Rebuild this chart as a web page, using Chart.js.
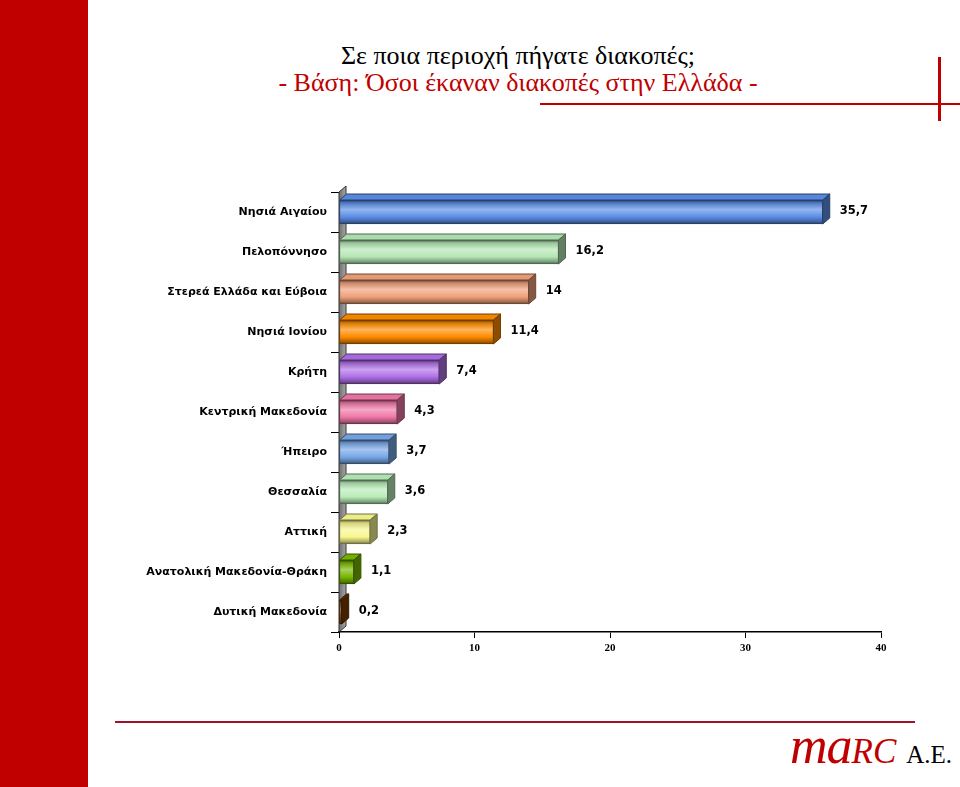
<!DOCTYPE html>
<html>
<head>
<meta charset="utf-8">
<script src="https://cdn.jsdelivr.net/npm/chart.js@4.4.1/dist/chart.umd.min.js"></script>
<style>
  html, body { margin: 0; padding: 0; background: #fff; }
  body { width: 960px; height: 787px; position: relative; overflow: hidden; }
  .band { position: absolute; left: 0; top: 0; width: 88px; height: 787px; background: #c00000; }
  .title { position: absolute; left: 88px; width: 860px; text-align: center; font-family: "Liberation Serif", serif; font-size: 26px; line-height: 30px; }
  .t1 { top: 41px; color: #000; }
  .t2 { top: 68px; color: #c00000; }
  .vline { position: absolute; left: 938px; top: 57px; width: 3px; height: 64px; background: #c00000; }
  .hline { position: absolute; left: 540px; top: 103px; width: 420px; height: 2px; background: #c00000; }
  .bline { position: absolute; left: 115px; top: 721px; width: 800px; height: 2px; background: #a0102a; }
  .logo { position: absolute; left: 790px; top: 716px; font-family: "Liberation Serif", serif; white-space: nowrap; }
  .logo .m { color: #c00000; font-style: italic; font-size: 52px; letter-spacing: -1px; }
  .logo .rc { color: #c00000; font-style: italic; font-size: 35px; }
  .logo .ae { color: #000; font-size: 25px; margin-left: 10px; }
  #wrap { position: absolute; left: 0; top: 170px; width: 960px; height: 500px; }
</style>
</head>
<body>
<div class="band"></div>
<div class="title t1">Σε ποια περιοχή πήγατε διακοπές;</div>
<div class="title t2">- Βάση: Όσοι έκαναν διακοπές στην Ελλάδα -</div>
<div class="vline"></div>
<div class="hline"></div>
<div class="bline"></div>
<div class="logo"><span class="m">ma</span><span class="rc">RC</span><span class="ae">A.E.</span></div>
<div id="wrap"><canvas id="chart"></canvas></div>

<script>
const regions = [
  "Νησιά Αιγαίου",
  "Πελοπόννησο",
  "Στερεά Ελλάδα και Εύβοια",
  "Νησιά Ιονίου",
  "Κρήτη",
  "Κεντρική Μακεδονία",
  "Ήπειρο",
  "Θεσσαλία",
  "Αττική",
  "Ανατολική Μακεδονία-Θράκη",
  "Δυτική Μακεδονία",
];
const shares = [35.7, 16.2, 14, 11.4, 7.4, 4.3, 3.7, 3.6, 2.3, 1.1, 0.2];
const xTicks = [0, 10, 20, 30, 40];

// one colour per bar, like the original
const barColors = [
  "#5b8ee6", "#b4e6b4", "#f0a07a", "#ff8c00", "#b070e8", "#f078a8",
  "#78a8e8", "#b8ecb8", "#f8f890", "#78b800", "#7a3c00",
];

const DX = 7, DY = 6, BAR_H = 24;

function shade(hex, f) {
  const n = parseInt(hex.slice(1), 16);
  let r = (n >> 16) & 255, g = (n >> 8) & 255, b = n & 255;
  const t = f < 0 ? 0 : 255, p = Math.abs(f);
  r = Math.round(r + (t - r) * p);
  g = Math.round(g + (t - g) * p);
  b = Math.round(b + (t - b) * p);
  return `rgb(${r},${g},${b})`;
}

function frontFill(context) {
  const chart = context.chart;
  const base = barColors[context.dataIndex];
  if (!chart.chartArea || !chart.scales.y) return base;
  const yc = chart.scales.y.getPixelForValue(context.dataIndex);
  const g = chart.ctx.createLinearGradient(0, yc - BAR_H / 2, 0, yc + BAR_H / 2);
  g.addColorStop(0, shade(base, -0.6));
  g.addColorStop(0.12, shade(base, -0.15));
  g.addColorStop(0.4, shade(base, 0.35));
  g.addColorStop(0.7, base);
  g.addColorStop(0.9, shade(base, -0.3));
  g.addColorStop(1, shade(base, -0.6));
  return g;
}

const bar3d = {
  id: "bar3d",
  beforeDatasetsDraw(chart) {
    const { ctx, chartArea: a } = chart;
    ctx.save();
    const g = ctx.createLinearGradient(a.left, 0, a.left + DX, 0);
    g.addColorStop(0, "#6e6e6e");
    g.addColorStop(1, "#a8a8a8");
    ctx.fillStyle = g;
    ctx.strokeStyle = "#333";
    ctx.lineWidth = 1;
    ctx.beginPath();
    ctx.moveTo(a.left, a.top);
    ctx.lineTo(a.left + DX, a.top - DY);
    ctx.lineTo(a.left + DX, a.bottom - DY);
    ctx.lineTo(a.left, a.bottom);
    ctx.closePath();
    ctx.fill();
    ctx.stroke();
    ctx.restore();
  },
  afterDatasetsDraw(chart) {
    const { ctx } = chart;
    const meta = chart.getDatasetMeta(0);
    ctx.save();
    meta.data.forEach((bar, i) => {
      const base = barColors[i];
      const p = bar.getProps(["x", "y", "base", "height"], true);
      const top = p.y - p.height / 2, bot = p.y + p.height / 2;
      // top face
      ctx.beginPath();
      ctx.moveTo(p.base, top);
      ctx.lineTo(p.base + DX, top - DY);
      ctx.lineTo(p.x + DX, top - DY);
      ctx.lineTo(p.x, top);
      ctx.closePath();
      ctx.fillStyle = shade(base, -0.05);
      ctx.fill();
      ctx.strokeStyle = shade(base, -0.55);
      ctx.lineWidth = 1;
      ctx.stroke();
      // side face
      ctx.beginPath();
      ctx.moveTo(p.x, top);
      ctx.lineTo(p.x + DX, top - DY);
      ctx.lineTo(p.x + DX, bot - DY);
      ctx.lineTo(p.x, bot);
      ctx.closePath();
      ctx.fillStyle = shade(base, -0.45);
      ctx.fill();
      ctx.stroke();
      // value label
      ctx.fillStyle = "#000";
      ctx.font = "bold 11.5px 'DejaVu Sans'";
      ctx.textAlign = "left";
      ctx.textBaseline = "middle";
      ctx.fillText(String(shares[i]).replace(".", ","), p.x + DX + 10, p.y - 1);
    });
    ctx.restore();
  },
};

new Chart(document.getElementById("chart"), {
  type: "bar",
  data: {
    labels: regions,
    datasets: [{
      data: shares,
      backgroundColor: frontFill,
      borderColor: barColors.map((c) => shade(c, -0.55)),
      borderWidth: 1,
      borderSkipped: false,
      barThickness: BAR_H,
    }],
  },
  options: {
    indexAxis: "y",
    responsive: true,
    maintainAspectRatio: false,
    animation: false,
    layout: { padding: { top: 22, right: 79, left: 0, bottom: 0 } },
    plugins: { legend: { display: false }, tooltip: { enabled: false }, title: { display: false } },
    scales: {
      x: {
        min: 0,
        max: 40,
        afterBuildTicks: (scale) => { scale.ticks = xTicks.map((v) => ({ value: v })); },
        afterFit: (scale) => { scale.height = 38; },
        grid: { drawOnChartArea: false, drawTicks: true, tickLength: 6, color: "#000" },
        border: { display: true, color: "#000", width: 1.5 },
        ticks: { color: "#000", font: { family: "Liberation Serif", size: 11, weight: "bold" }, padding: 4 },
      },
      y: {
        afterFit: (scale) => { scale.width = 339; },
        grid: { drawOnChartArea: false, drawTicks: true, tickLength: 8, offset: true, color: "#000" },
        border: { display: true, color: "#000", width: 1 },
        ticks: { color: "#000", font: { family: "DejaVu Sans", size: 11, weight: "bold" }, padding: 4 },
      },
    },
  },
  plugins: [bar3d],
});
</script>
</body>
</html>
